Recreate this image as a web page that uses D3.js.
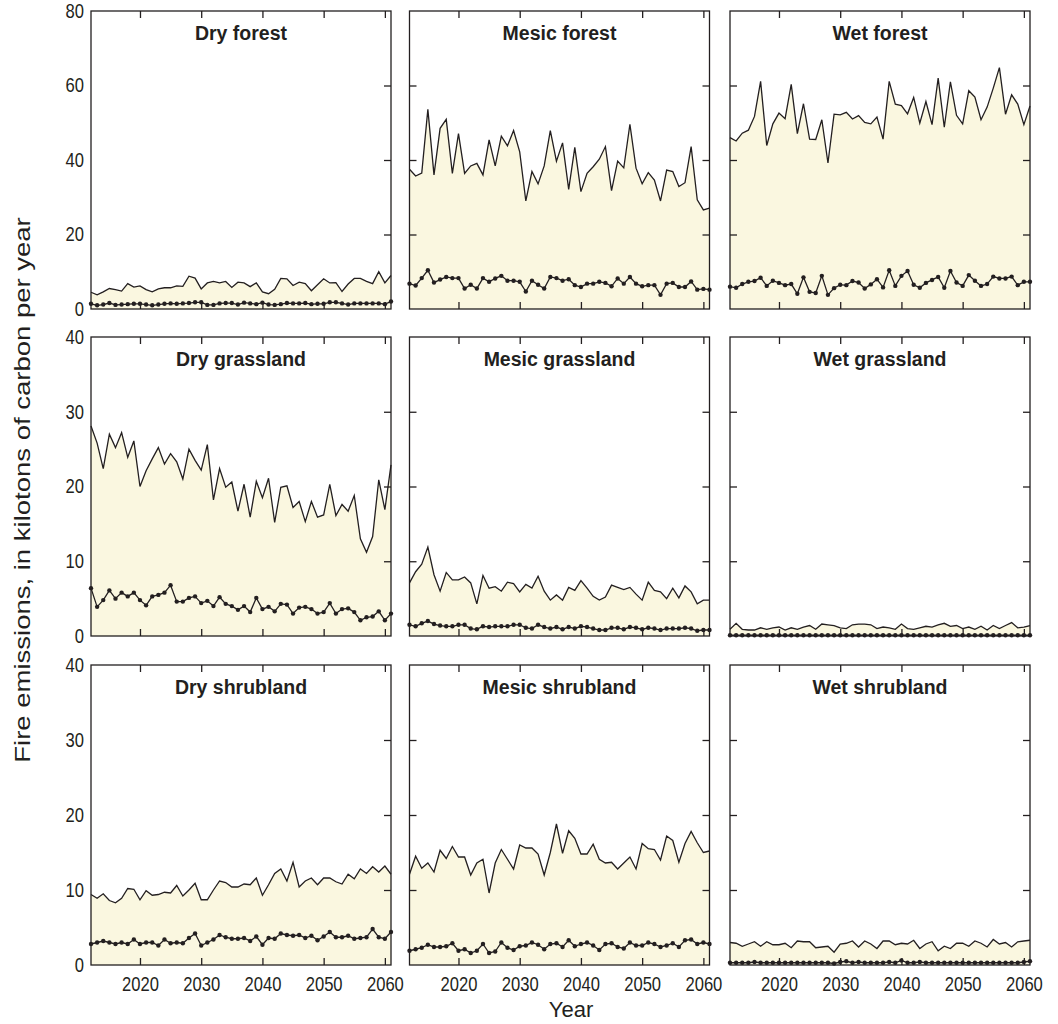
<!DOCTYPE html>
<html>
<head>
<meta charset="utf-8">
<script src="https://cdn.jsdelivr.net/npm/d3@7"></script>
<style>
  html, body { margin: 0; padding: 0; background: #ffffff; }
  svg { display: block; }
  .tick-label { font-family: "Liberation Sans", Arial, sans-serif; font-size: 20px; fill: #231f20; }
  .panel-title { font-family: "Liberation Sans", Arial, sans-serif; font-weight: bold; font-size: 19.5px; fill: #231f20; }
  .axis-title { font-family: "Liberation Sans", Arial, sans-serif; font-size: 22px; fill: #231f20; }
</style>
</head>
<body>
<svg id="chart" width="1058" height="1024"></svg>
<script>
// Simulation years (one value per year)
const firstYear = 2012;
const lastYear = 2061;
const years = d3.range(firstYear, lastYear + 1);

// Axis ticks and labels
const yearTicks = [2020, 2030, 2040, 2050, 2060];
const forestTicks = [0, 20, 40, 60, 80];
const openTicks = [0, 10, 20, 30, 40];

// Panel titles, row by row
const panelTitles = [
  "Dry forest", "Mesic forest", "Wet forest",
  "Dry grassland", "Mesic grassland", "Wet grassland",
  "Dry shrubland", "Mesic shrubland", "Wet shrubland"
];

// Fire emissions, kilotons of carbon per year — upper (shaded) series
const dryForestUpper = [4.5,3.8,4.6,5.5,5.2,4.8,6.8,5.9,6.2,5.2,4.6,5.4,5.7,5.7,6.2,6.1,8.8,8.3,5.4,7.0,7.4,7.0,7.4,5.8,7.2,7.0,6.0,7.0,4.6,4.1,5.3,8.2,8.1,6.3,7.2,6.8,4.9,6.5,8.1,7.0,7.1,4.7,6.7,8.2,8.2,7.4,6.8,10.0,7.0,9.0];
const mesicForestUpper = [37.5,35.7,36.5,53.6,36.0,48.5,50.9,36.4,47.1,36.4,38.4,39.1,36.0,45.4,38.4,46.4,43.8,47.9,42.2,29.0,36.9,33.6,38.4,47.9,39.7,44.6,32.1,43.4,31.5,36.4,38.2,40.2,43.6,31.8,39.7,37.9,49.6,37.8,33.6,36.6,34.6,29.0,37.3,36.9,32.9,33.9,43.6,29.3,26.6,27.1];
const wetForestUpper = [46.0,45.1,47.2,48.0,51.7,61.1,43.9,49.7,52.6,51.1,60.3,47.1,55.1,45.6,45.5,50.8,39.2,52.3,52.1,52.8,51.0,51.9,50.1,49.7,51.5,45.6,61.1,55.0,54.6,52.4,56.8,49.9,55.7,49.5,62.0,48.8,61.0,52.0,49.7,58.6,56.9,50.8,54.2,59.3,64.8,52.3,57.5,55.0,49.5,54.5];
const dryGrassUpper = [28.1,25.8,22.4,27.0,25.2,27.2,23.9,26.1,20.0,22.1,23.7,25.2,23.0,24.4,23.3,21.0,25.0,23.5,22.2,25.6,18.2,22.4,19.9,20.6,16.7,20.3,15.9,20.7,18.5,21.1,15.2,19.9,20.1,17.2,18.0,15.3,18.0,15.9,16.2,20.3,16.1,17.6,16.7,18.8,13.0,11.2,13.3,20.9,16.9,22.9];
const mesicGrassUpper = [7.1,8.6,9.6,11.9,8.2,6.0,8.5,7.5,7.5,7.9,7.1,4.3,8.1,6.4,6.6,6.0,7.2,7.0,5.9,6.9,6.4,8.0,6.0,4.8,5.5,4.8,6.5,6.1,7.4,6.4,5.3,4.8,5.2,6.8,6.5,6.2,6.5,5.6,4.8,7.2,6.1,5.9,5.0,6.4,5.1,6.7,5.9,4.3,4.8,4.8];
const wetGrassUpper = [0.9,1.7,0.9,0.8,0.8,1.1,0.9,1.1,1.2,0.8,1.1,0.9,1.2,1.4,0.9,1.6,1.5,1.4,1.1,1.0,1.5,1.6,1.6,1.5,1.0,1.2,1.1,0.9,1.6,1.0,0.9,1.1,1.3,1.2,1.5,1.7,1.3,1.4,1.0,1.2,0.9,1.3,0.8,1.4,1.0,1.4,1.8,1.1,1.2,1.4];
const dryShrubUpper = [9.4,8.9,9.5,8.6,8.3,8.9,10.2,10.1,8.7,9.9,9.3,9.4,9.7,9.6,10.6,9.2,10.0,10.9,8.7,8.7,10.0,11.2,11.0,10.4,10.4,10.8,10.7,11.6,9.3,10.7,12.2,12.8,11.2,13.7,10.4,11.2,11.6,10.7,11.6,11.6,11.1,10.8,12.1,11.5,12.8,12.2,13.1,12.4,13.2,12.1];
const mesicShrubUpper = [12.1,14.5,12.9,13.6,12.4,15.3,14.2,15.8,14.4,14.4,12.0,13.6,14.1,9.6,13.6,15.4,14.1,12.8,16.0,15.6,15.6,14.8,12.0,15.0,18.8,14.9,17.9,16.9,14.8,14.8,16.1,14.1,13.6,13.7,12.8,13.6,14.4,12.8,16.2,15.5,15.4,14.0,17.2,16.6,13.7,16.2,17.8,16.3,15.0,15.2];
const wetShrubUpper = [3.0,2.9,2.5,2.8,3.1,2.5,3.1,2.7,2.7,2.9,2.3,3.2,3.1,3.1,2.3,2.4,2.5,1.7,2.8,2.9,3.2,2.4,3.2,2.8,2.2,3.2,3.2,2.7,2.9,2.8,3.3,2.2,2.8,3.1,1.9,2.5,2.2,2.9,2.9,2.5,3.2,2.9,2.4,3.4,2.8,3.0,2.4,3.1,3.2,3.3];

// Fire emissions, kilotons of carbon per year — lower (dotted) series
const dryForestLower = [1.4,1.0,1.2,1.6,1.1,1.2,1.3,1.4,1.4,1.2,1.0,1.2,1.4,1.5,1.4,1.5,1.6,1.8,1.8,1.1,1.1,1.5,1.6,1.6,1.2,1.7,1.5,1.3,1.7,1.2,1.1,1.3,1.6,1.5,1.5,1.6,1.3,1.4,1.4,1.8,1.8,1.5,1.2,1.5,1.5,1.5,1.5,1.5,1.3,2.0];
const mesicForestLower = [6.8,6.3,8.3,10.4,7.1,7.9,8.6,8.3,8.3,5.5,6.5,5.5,8.3,7.3,8.2,8.9,7.6,7.6,7.3,4.7,7.6,6.5,5.5,8.6,8.3,7.6,8.0,6.4,5.9,6.8,6.8,7.3,7.0,6.1,8.2,6.8,8.6,6.8,6.1,6.4,6.4,3.8,6.8,7.0,5.9,5.9,7.4,5.2,5.4,5.2];
const wetForestLower = [6.0,5.7,6.7,7.3,7.5,8.4,6.2,7.6,7.0,6.4,6.7,4.1,8.5,4.6,4.3,8.9,3.8,5.6,6.5,6.4,7.5,7.1,5.5,6.6,8.0,5.8,10.4,6.2,8.9,10.2,6.5,5.7,7.0,7.8,8.6,5.7,10.2,7.1,6.2,9.1,7.6,6.2,6.7,8.7,8.2,8.2,8.7,6.4,7.3,7.3];
const dryGrassLower = [6.4,3.9,4.8,6.1,5.0,5.8,5.3,5.8,4.8,4.1,5.3,5.5,5.8,6.8,4.6,4.6,5.1,5.3,4.4,4.7,4.0,5.2,4.3,4.0,3.5,4.0,3.2,5.1,3.6,3.9,3.3,4.3,4.2,3.0,3.8,3.9,3.6,3.0,3.2,4.4,3.0,3.6,3.7,3.2,2.1,2.5,2.6,3.3,2.1,3.0];
const mesicGrassLower = [1.5,1.3,1.7,2.0,1.6,1.4,1.3,1.3,1.5,1.5,1.0,0.9,1.3,1.2,1.3,1.3,1.3,1.5,1.5,1.1,1.0,1.5,1.2,1.0,1.2,0.9,1.2,1.0,1.3,1.2,1.0,0.8,0.8,1.1,1.1,0.9,1.2,1.1,0.9,1.1,1.0,0.8,1.0,1.0,1.0,1.1,1.0,0.7,0.8,0.8];
const wetGrassLower = [0.1,0.1,0.1,0.1,0.1,0.1,0.1,0.1,0.1,0.1,0.1,0.1,0.1,0.1,0.1,0.1,0.1,0.1,0.1,0.1,0.1,0.1,0.1,0.1,0.1,0.1,0.1,0.1,0.1,0.1,0.1,0.1,0.1,0.1,0.1,0.1,0.1,0.1,0.1,0.1,0.1,0.1,0.1,0.1,0.1,0.1,0.1,0.1,0.1,0.1];
const dryShrubLower = [2.8,3.0,3.2,3.0,2.8,3.0,2.8,3.4,2.8,3.0,3.0,2.6,3.4,2.9,3.0,2.9,3.6,4.2,2.6,3.0,3.4,4.0,3.7,3.5,3.5,3.6,3.2,3.8,2.7,3.6,3.5,4.2,4.0,3.9,4.0,3.6,3.9,3.3,3.8,4.4,3.7,3.7,3.9,3.5,3.6,3.7,4.8,3.7,3.5,4.4];
const mesicShrubLower = [1.9,2.1,2.3,2.7,2.4,2.4,2.5,2.9,1.9,2.1,1.6,1.9,2.8,1.6,1.8,3.0,2.3,2.0,2.5,2.6,3.0,2.7,2.1,2.8,2.9,2.4,3.3,2.5,2.8,3.0,2.6,2.0,2.8,2.9,2.4,2.2,3.0,2.6,2.6,3.0,2.8,2.4,2.6,2.9,2.4,3.3,3.4,2.8,3.0,2.8];
const wetShrubLower = [0.3,0.3,0.3,0.3,0.4,0.3,0.3,0.3,0.3,0.3,0.3,0.3,0.3,0.3,0.3,0.3,0.3,0.2,0.4,0.5,0.3,0.4,0.3,0.3,0.3,0.3,0.4,0.3,0.6,0.3,0.3,0.4,0.3,0.3,0.3,0.3,0.3,0.3,0.3,0.3,0.3,0.3,0.3,0.3,0.3,0.3,0.3,0.3,0.4,0.5];

const upperSeries = [dryForestUpper, mesicForestUpper, wetForestUpper,
                     dryGrassUpper, mesicGrassUpper, wetGrassUpper,
                     dryShrubUpper, mesicShrubUpper, wetShrubUpper];
const lowerSeries = [dryForestLower, mesicForestLower, wetForestLower,
                     dryGrassLower, mesicGrassLower, wetGrassLower,
                     dryShrubLower, mesicShrubLower, wetShrubLower];

// Layout of the 3 x 3 grid
const colLeft = [91, 409.5, 730];
const rowTop = [11, 337, 665];
const rowHeight = [298, 299, 300];
const panelWidth = 300;
const rowTicks = [forestTicks, openTicks, openTicks];

const ink = "#231f20";
const shade = "#faf7e0";
const narrow = 0.83; // horizontal squeeze for the condensed lettering

const svg = d3.select("#chart");

panelTitles.forEach((title, k) => {
  const row = Math.floor(k / 3), col = k % 3;
  const h = rowHeight[row];
  const ticks = rowTicks[row];
  const g = svg.append("g").attr("transform", `translate(${colLeft[col]},${rowTop[row]})`);

  const x = d3.scaleLinear().domain([firstYear, lastYear]).range([0, panelWidth]);
  const y = d3.scaleLinear().domain([ticks[0], ticks[ticks.length - 1]]).range([h, 0]);

  const upper = years.map((yr, i) => ({ year: yr, v: upperSeries[k][i] }));
  const lower = years.map((yr, i) => ({ year: yr, v: lowerSeries[k][i] }));

  // shaded area under the upper series
  g.append("path")
    .datum(upper)
    .attr("fill", shade)
    .attr("d", d3.area().x(d => x(d.year)).y0(y(0)).y1(d => y(d.v)));

  g.append("path")
    .datum(upper)
    .attr("fill", "none")
    .attr("stroke", ink)
    .attr("stroke-width", 1.3)
    .attr("d", d3.line().x(d => x(d.year)).y(d => y(d.v)));

  // lower series with markers
  g.append("path")
    .datum(lower)
    .attr("fill", "none")
    .attr("stroke", ink)
    .attr("stroke-width", 1.3)
    .attr("d", d3.line().x(d => x(d.year)).y(d => y(d.v)));

  g.selectAll("circle.marker")
    .data(lower)
    .join("circle")
    .attr("class", "marker")
    .attr("cx", d => x(d.year))
    .attr("cy", d => y(d.v))
    .attr("r", 2.2)
    .attr("fill", ink);

  // inward tick marks on all four sides
  const innerY = ticks.slice(1, -1);
  const tickLen = 7;
  const styleTicks = sel => {
    sel.select(".domain").remove();
    sel.selectAll(".tick text").remove();
    sel.selectAll(".tick line").attr("stroke", ink).attr("stroke-width", 1.3);
  };
  g.append("g").call(d3.axisBottom(x).tickValues(yearTicks).tickSize(tickLen)).call(styleTicks);
  g.append("g").attr("transform", `translate(0,${h})`)
    .call(d3.axisTop(x).tickValues(yearTicks).tickSize(tickLen)).call(styleTicks);
  g.append("g").attr("transform", `translate(${panelWidth},0)`)
    .call(d3.axisLeft(y).tickValues(innerY).tickSize(tickLen)).call(styleTicks);
  if (col > 0) {
    g.append("g").call(d3.axisRight(y).tickValues(innerY).tickSize(tickLen)).call(styleTicks);
  }

  // frame
  g.append("rect")
    .attr("width", panelWidth).attr("height", h)
    .attr("fill", "none").attr("stroke", ink).attr("stroke-width", 1.3);

  // value labels on the left column
  if (col === 0) {
    const ya = g.append("g").call(d3.axisLeft(y).tickValues(ticks).tickSize(0).tickPadding(0));
    ya.select(".domain").remove();
    ya.selectAll("text")
      .attr("class", "tick-label").attr("fill", null)
      .attr("x", -7 / narrow)
      .attr("transform", `scale(${narrow},1)`);
  }
  // year labels on the bottom row
  if (row === 2) {
    const xa = g.append("g").attr("transform", `translate(0,${h})`)
      .call(d3.axisBottom(x).tickValues(yearTicks).tickFormat(d3.format("d")).tickSize(0).tickPadding(12));
    xa.select(".domain").remove();
    xa.selectAll("text")
      .attr("class", "tick-label").attr("fill", null)
      .attr("transform", `scale(${narrow},1)`);
  }

  g.append("text")
    .attr("class", "panel-title")
    .attr("x", panelWidth / 2)
    .attr("y", 29)
    .attr("text-anchor", "middle")
    .text(title);
});

// remove axis-group font defaults so the CSS classes apply
svg.selectAll("g").attr("font-size", null).attr("font-family", null);

// vertical axis title, glyphs squeezed across the line like the numerals
svg.append("text")
  .attr("class", "axis-title")
  .attr("text-anchor", "middle")
  .attr("transform", `translate(30,490) scale(${narrow},1) rotate(-90)`)
  .style("font-size", "27.5px")
  .text("Fire emissions, in kilotons of carbon per year");

svg.append("text")
  .attr("class", "axis-title")
  .attr("text-anchor", "middle")
  .attr("x", 571)
  .attr("y", 1017)
  .text("Year");
</script>
</body>
</html>
